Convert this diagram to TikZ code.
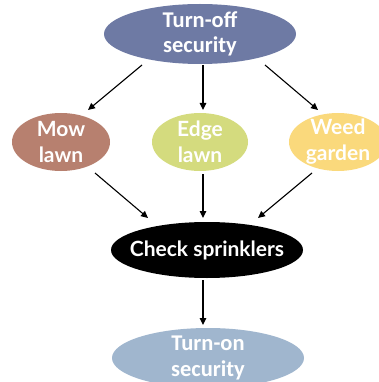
\documentclass[tikz,border=0pt]{standalone}
\usepackage{fontspec}
\setmainfont{Lato}
\newfontfamily\calib{Carlito}
\usetikzlibrary{shapes.geometric,arrows.meta}
\definecolor{slate}{RGB}{110,122,164}
\definecolor{mowc}{RGB}{183,128,111}
\definecolor{edgec}{RGB}{212,219,126}
\definecolor{weedc}{RGB}{250,217,124}
\definecolor{skyc}{RGB}{160,182,206}
\begin{document}
\begin{tikzpicture}[x=1pt,y=-1pt,
  blob/.style={ellipse,draw=none,inner sep=0pt,outer sep=0pt},
  wide/.style={blob,minimum width=192pt,minimum height=60pt},
  small/.style={blob,minimum width=98pt,minimum height=58pt},
  lbl/.style={text=white,font=\bfseries\fontsize{21}{26}\selectfont,align=center,inner sep=0pt},
  clbl/.style={lbl,font=\calib\bfseries\fontsize{22.5}{25.5}\selectfont},
  arr/.style={line width=1.1pt,-{Triangle[length=7pt,width=6.5pt]}}]
\useasboundingbox (0,0) rectangle (379,382);
\clip (0,0) rectangle (379,382);
% the six tasks
\node[wide,fill=slate,label={[clbl]center:Turn-off\\security}] (off) at (200,34) {};
\node[small,fill=mowc,label={[lbl]center:Mow\\lawn}] (mow) at (61,142) {};
\node[small,minimum width=96pt,fill=edgec,label={[lbl]center:Edge\\lawn}] (edge) at (200,142) {};
\node[small,fill=weedc,label={[lbl]center:Weed\\garden}] (weed) at (338,142) {};
\node[wide,minimum height=56pt,fill=black,label={[lbl]center:Check sprinklers}] (check) at (207,250) {};
\node[wide,fill=skyc,label={[clbl]center:Turn-on\\security}] (on) at (208,358) {};
% connectors
\draw[arr] ([shift={(-58,1)}]off.south) -- ([shift={(27,-3)}]mow.north);
\draw[arr] ([shift={(3,1)}]off.south) -- ([shift={(3,-3)}]edge.north);
\draw[arr] ([shift={(65,1)}]off.south) -- ([shift={(-20,-3)}]weed.north);
\draw[arr] ([shift={(34,2)}]mow.south) -- ([shift={(-59,-4)}]check.north);
\draw[arr] ([shift={(3,3)}]edge.south) -- ([shift={(-4,-4)}]check.north);
\draw[arr] ([shift={(-26,2)}]weed.south) -- ([shift={(51,-4)}]check.north);
\draw[arr] ([shift={(-4,2)}]check.south) -- ([shift={(-5,-3)}]on.north);
\end{tikzpicture}
\end{document}
